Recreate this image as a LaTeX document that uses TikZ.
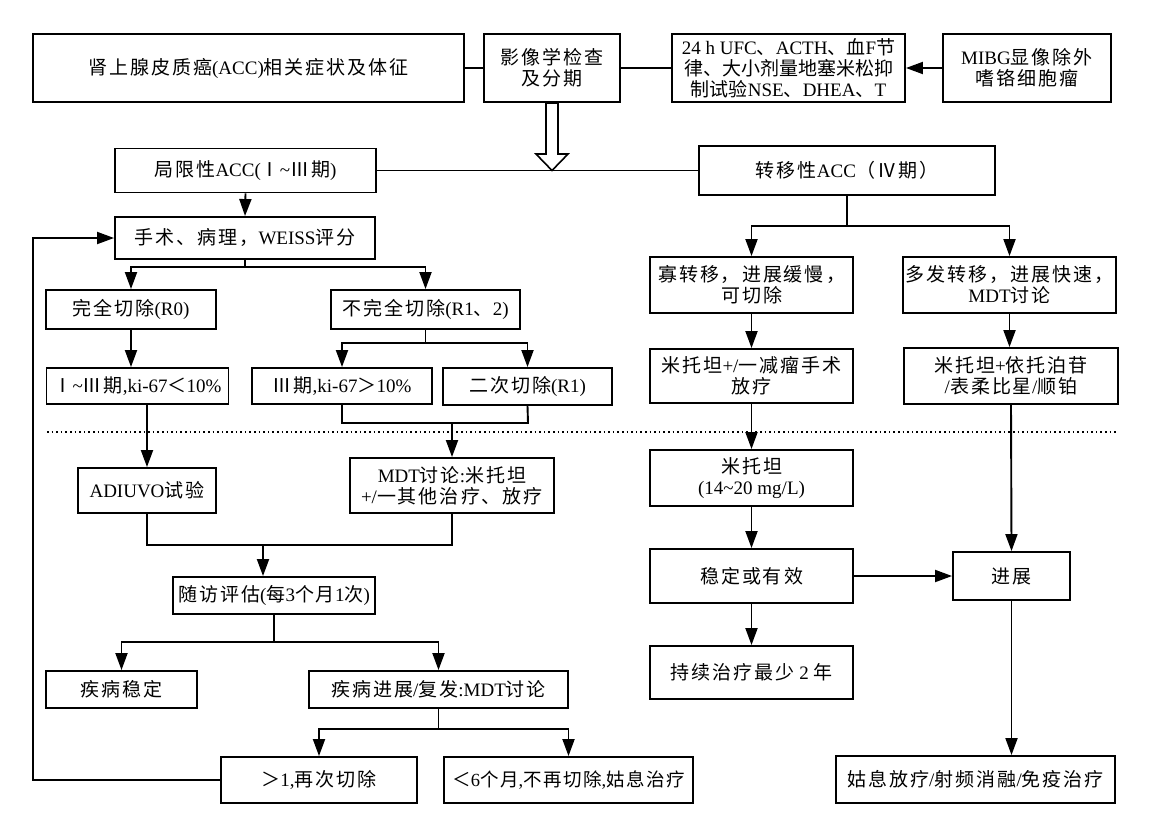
\documentclass[tikz,border=0pt]{standalone}
\usepackage{fontspec}
\setmainfont{Liberation Serif}
\newfontfamily\cjkfont{Noto Sans CJK SC}
\newfontfamily\latfont{Liberation Serif}
\usetikzlibrary{arrows.meta}
\XeTeXinterchartokenstate=1
\newXeTeXintercharclass\cjkcls
\newcount\tmpc
\def\setcls#1#2{\tmpc=#1\relax\loop\XeTeXcharclass\tmpc=\cjkcls\advance\tmpc by 1\relax\ifnum\tmpc<#2\repeat}
\setcls{"3000}{"3040}
\setcls{"4E00}{"A000}
\setcls{"FF00}{"FFF0}
\setcls{"2160}{"2189}
\newdimen\cjkgap \cjkgap=2pt
\newcommand{\setgap}[1]{\global\cjkgap=#1\relax}
\XeTeXinterchartoks 0 \cjkcls = {\cjkfont}
\XeTeXinterchartoks 4095 \cjkcls = {\cjkfont}
\XeTeXinterchartoks \cjkcls 0 = {\latfont}
\XeTeXinterchartoks \cjkcls 4095 = {\latfont}
\XeTeXinterchartoks \cjkcls \cjkcls = {\hskip\cjkgap\relax}
\newcommand{\tld}{\char"7E\relax}
\begin{document}
\begin{tikzpicture}[x=1pt,y=-1pt,
  box/.style={draw, line width=1.9pt, inner sep=0pt, align=center,
    font={\fontsize{19}{21}\selectfont}},
  con/.style={line width=1.9pt},
  arr/.style={con, -{Triangle[length=17pt,width=12pt]}},
  dotline/.style={line width=1.8pt, dash pattern=on 1.6pt off 3pt}]
\useasboundingbox (0,0) rectangle (1150,833);
% top row
\node[box, minimum width=431pt, minimum height=68pt] (A) at (248.5,68) {肾上腺皮质癌(ACC)相关症状及体征};
\node[box, minimum width=136pt, minimum height=68pt] (B) at (552,68) {影像学检查\\及分期};
\setgap{0pt}
\node[box, minimum width=233pt, minimum height=68pt] (C) at (788.5,68) {24 h UFC、ACTH、血F节\\律、大小剂量地塞米松抑\\制试验NSE、DHEA、T};
\setgap{2pt}
\node[box, minimum width=168pt, minimum height=68pt] (D) at (1027,68) {MIBG显像除外\\嗜铬细胞瘤};
% second row
\node[box, minimum width=261pt, minimum height=44pt] (E) at (245.5,170.5) {局限性ACC(Ⅰ\tld Ⅲ期)};
\node[box, minimum width=296pt, minimum height=49pt] (F) at (847,170.5) {转移性ACC（Ⅳ期）};
% left branch
\node[box, minimum width=260pt, minimum height=42pt] (S) at (245,238) {手术、病理，WEISS评分};
\node[box, minimum width=170pt, minimum height=39pt] (R0) at (131,309.5) {完全切除(R0)};
\node[box, minimum width=189pt, minimum height=39pt] (R12) at (425.5,309.5) {不完全切除(R1、2)};
\node[box, minimum width=182pt, minimum height=36pt] (K1) at (137.5,386) {Ⅰ\tld Ⅲ期,ki-67＜10\%};
\node[box, minimum width=180pt, minimum height=36pt] (K2) at (342,386) {Ⅲ期,ki-67＞10\%};
\node[box, minimum width=169pt, minimum height=37pt] (R1) at (527.5,386.5) {二次切除(R1)};
\node[box, minimum width=138pt, minimum height=45pt] (Ad) at (147,490.5) {ADIUVO试验};
\node[box, minimum width=204pt, minimum height=55pt] (M) at (452,485.5) {MDT讨论:米托坦\\+/一其他治疗、放疗};
\node[box, minimum width=202pt, minimum height=37pt] (F1) at (274,595.5) {随访评估(每3个月1次)};
\node[box, minimum width=151pt, minimum height=37pt] (St) at (121.5,689.5) {疾病稳定};
\node[box, minimum width=259pt, minimum height=37pt] (P) at (438.5,689.5) {疾病进展/复发:MDT讨论};
\node[box, minimum width=196pt, minimum height=46pt] (Re) at (319,780) {＞1,再次切除};
\setgap{1.5pt}
\node[box, minimum width=249pt, minimum height=46pt, font={\fontsize{18.5}{21}\selectfont}] (No) at (568.5,780) {＜6个月,不再切除,姑息治疗};
\setgap{2pt}
% right branch
\node[box, minimum width=203pt, minimum height=56pt] (O) at (751.5,285) {寡转移，进展缓慢，\\可切除};
\node[box, minimum width=213pt, minimum height=56pt] (Mu) at (1009.5,285) {多发转移，进展快速，\\MDT讨论};
\node[box, minimum width=203pt, minimum height=54pt] (O2) at (751.5,376) {米托坦+/一减瘤手术\\放疗};
\node[box, minimum width=214pt, minimum height=56pt] (Mu2) at (1011,376) {米托坦+依托泊苷\\/表柔比星/顺铂};
\node[box, minimum width=203pt, minimum height=56pt] (Mi) at (751.5,478) {米托坦\\(14\tld 20 mg/L)};
\node[box, minimum width=203pt, minimum height=54pt] (SE) at (751.5,576) {稳定或有效};
\node[box, minimum width=203pt, minimum height=53pt] (Co) at (751.5,672.5) {持续治疗最少 2 年};
\node[box, minimum width=117pt, minimum height=48pt] (J) at (1011.5,576) {进展};
\node[box, minimum width=279pt, minimum height=47pt] (Pal) at (975.5,779.5) {姑息放疗/射频消融/免疫治疗};
% junction coordinates
\coordinate (jS) at (245,267);
\coordinate (jR) at (425.5,343);
\coordinate (jK) at (528,423);
\coordinate (jA) at (263,545);
\coordinate (jF) at (274,642);
\coordinate (jP) at (438.5,729);
\coordinate (jT) at (847,226);
\coordinate (lp) at (33,238);
% dotted separator
\draw[dotline] (47,432) -- (1118,432);
% top connectors
\draw[con] (A.east) -- (B.west);
\draw[con] (B.east) -- (C.west);
\draw[arr] (D.west) -- (C.east);
\draw[con] (E.east) -- (F.west);
\draw[line width=1.6pt, fill=white] (546,103) -- (546,154) -- (536,154) -- (552,170.5) -- (568,154) -- (558,154) -- (558,103) -- cycle;
% left connectors
\draw[arr] (E.south) -- (S.north);
\draw[con] (S.south) -- (jS);
\draw[arr] (jS) -| (R0.north);
\draw[arr] (jS) -| (R12.north);
\draw[arr] (R0.south) -- (R0.south |- K1.north);
\draw[con] (R12.south) -- (jR);
\draw[arr] (jR) -| (K2.north);
\draw[arr] (jR) -| (R1.north);
\draw[con] (K2.south) |- (jK) -- (R1.south);
\draw[arr] (M.north |- jK) -- (M.north);
\draw[arr] (Ad.north |- K1.south) -- (Ad.north);
\draw[con] (Ad.south) |- (M.south |- jA) -- (M.south);
\draw[arr] (jA) -- (jA |- F1.north);
\draw[con] (F1.south) -- (jF);
\draw[arr] (jF) -| (St.north);
\draw[arr] (jF) -| (P.north);
\draw[con] (P.south) -- (jP);
\draw[arr] (jP) -| (Re.north);
\draw[arr] (jP) -| (No.north);
\draw[arr] (Re.west) -| (lp) -- (S.west);
% right connectors
\draw[con] (F.south) -- (jT);
\draw[arr] (jT) -| (O.north);
\draw[arr] (jT) -| (Mu.north);
\draw[arr] (O.south) -- (O2.north);
\draw[arr] (Mu.south) -- (Mu.south |- Mu2.north);
\draw[arr] (O2.south) -- (Mi.north);
\draw[arr] (Mi.south) -- (SE.north);
\draw[arr] (SE.south) -- (Co.north);
\draw[arr] (SE.east) -- (J.west);
\draw[arr] (Mu2.south) -- (J.north);
\draw[arr] (J.south) -- (J.south |- Pal.north);
\end{tikzpicture}
\end{document}
